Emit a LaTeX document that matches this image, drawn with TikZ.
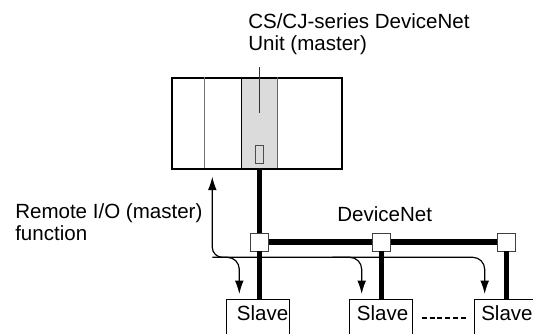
\documentclass[tikz,border=0pt]{standalone}
\usepackage{fontspec}
\setmainfont{Liberation Sans}
\usetikzlibrary{arrows.meta,positioning,calc}
\begin{document}
\begin{tikzpicture}[
    x=0.75pt, y=-0.75pt,
    font=\fontsize{15.4pt}{17pt}\selectfont,
    txt/.style={align=left, inner sep=0pt, anchor=north west},
    lbl/.style={inner sep=0pt, anchor=base west},
    tap/.style={draw=black!75, fill=white, line width=0.6pt, minimum size=13.5pt, inner sep=0pt},
    slave/.style={draw, line width=0.6pt, minimum width=47.25pt, minimum height=45pt, inner sep=0pt, anchor=north west},
    bus/.style={line width=3.8pt},
    arr/.style={-{Latex[length=10pt,width=6.5pt]}, line width=0.9pt, rounded corners=9pt},
  ]
    \useasboundingbox (0,0) rectangle (533,334);
    \fill[black!14] (241.3,78) rectangle (277.7,168);
    \node[draw, line width=1.3pt, minimum width=127.5pt, minimum height=68.25pt, inner sep=0pt, anchor=north west] (plc) at (171,77.3) {};
    \draw[black!55, line width=0.9pt] (204.7,77) -- (204.7,168);
    \draw[line width=0.6pt] (241.3,77) -- (241.3,168);
    \draw[black!60, line width=0.9pt] (277.7,77) -- (277.7,168);
    \node[draw=black!70, line width=0.6pt, minimum width=6pt, minimum height=13.5pt, inner sep=0pt] (led) at (259.7,154.3) {};
    \node[txt] (unit) at (248,13) {CS/CJ-series DeviceNet\\Unit (master)};
    \coordinate (leadtop) at (259.5,67.3);
    \coordinate (leadend) at (259.5,113.3);
    \draw[black!80, line width=0.6pt] (leadtop) -- (leadend);
    \node[txt] (remote) at (15,203) {Remote I/O (master)\\function};
    \node[lbl] (net) at (337,222) {DeviceNet};
    \node[tap] (tap1) at (259.7,242) {};
    \node[tap] (tap2) at (381.6,242) {};
    \node[tap] (tap3) at (506.8,242) {};
    \node[slave] (s1) at (226,298.7) {};
    \node[slave] (s2) at (349,298.7) {};
    \node[slave] (s3) at (474.3,298.7) {};
    \draw[bus] (tap1 |- plc.south) -- (tap1);
    \draw[bus] (tap1) -- (tap2);
    \draw[bus] (tap2) -- (tap3);
    \draw[bus] (tap1) -- (tap1 |- s1.north);
    \draw[bus] (tap2) -- (tap2 |- s2.north);
    \draw[bus] (tap3) -- (tap3 |- s3.north);
    \node[lbl] (t1) at (236.7,320.7) {Slave};
    \node[lbl] (t2) at (356.7,320.7) {Slave};
    \node[lbl] (t3) at (481,320.7) {Slave};
    \coordinate (dotsa) at (421.7,318.3);
    \coordinate (dotsb) at (465.7,318.3);
    \draw[line width=1.5pt, dash pattern=on 3.75pt off 2.1pt] (dotsa) -- (dotsb);
    % return line with its three drops
    \coordinate (armtop) at (212.3,176.7);
    \coordinate (armlow) at (212.3,257.3);
    \coordinate (armend) at (484.7,257.3);
    \coordinate (drop1) at (239.3,294);
    \coordinate (drop2) at (361.7,294);
    \coordinate (drop3) at (484.7,294);
    \draw[arr] (armtop |- armlow) ++(12,0) -| (drop1);
    \draw[arr] (armtop |- armlow) ++(120,0) -| (drop2);
    \draw[arr] (armlow) -| (drop3);
    \draw[-{Latex[length=10pt,width=6.5pt]}, line width=0.9pt, rounded corners=7.5pt] ($(armlow)+(12,0)$) -- (armlow) -- (armtop);
\end{tikzpicture}
\end{document}
